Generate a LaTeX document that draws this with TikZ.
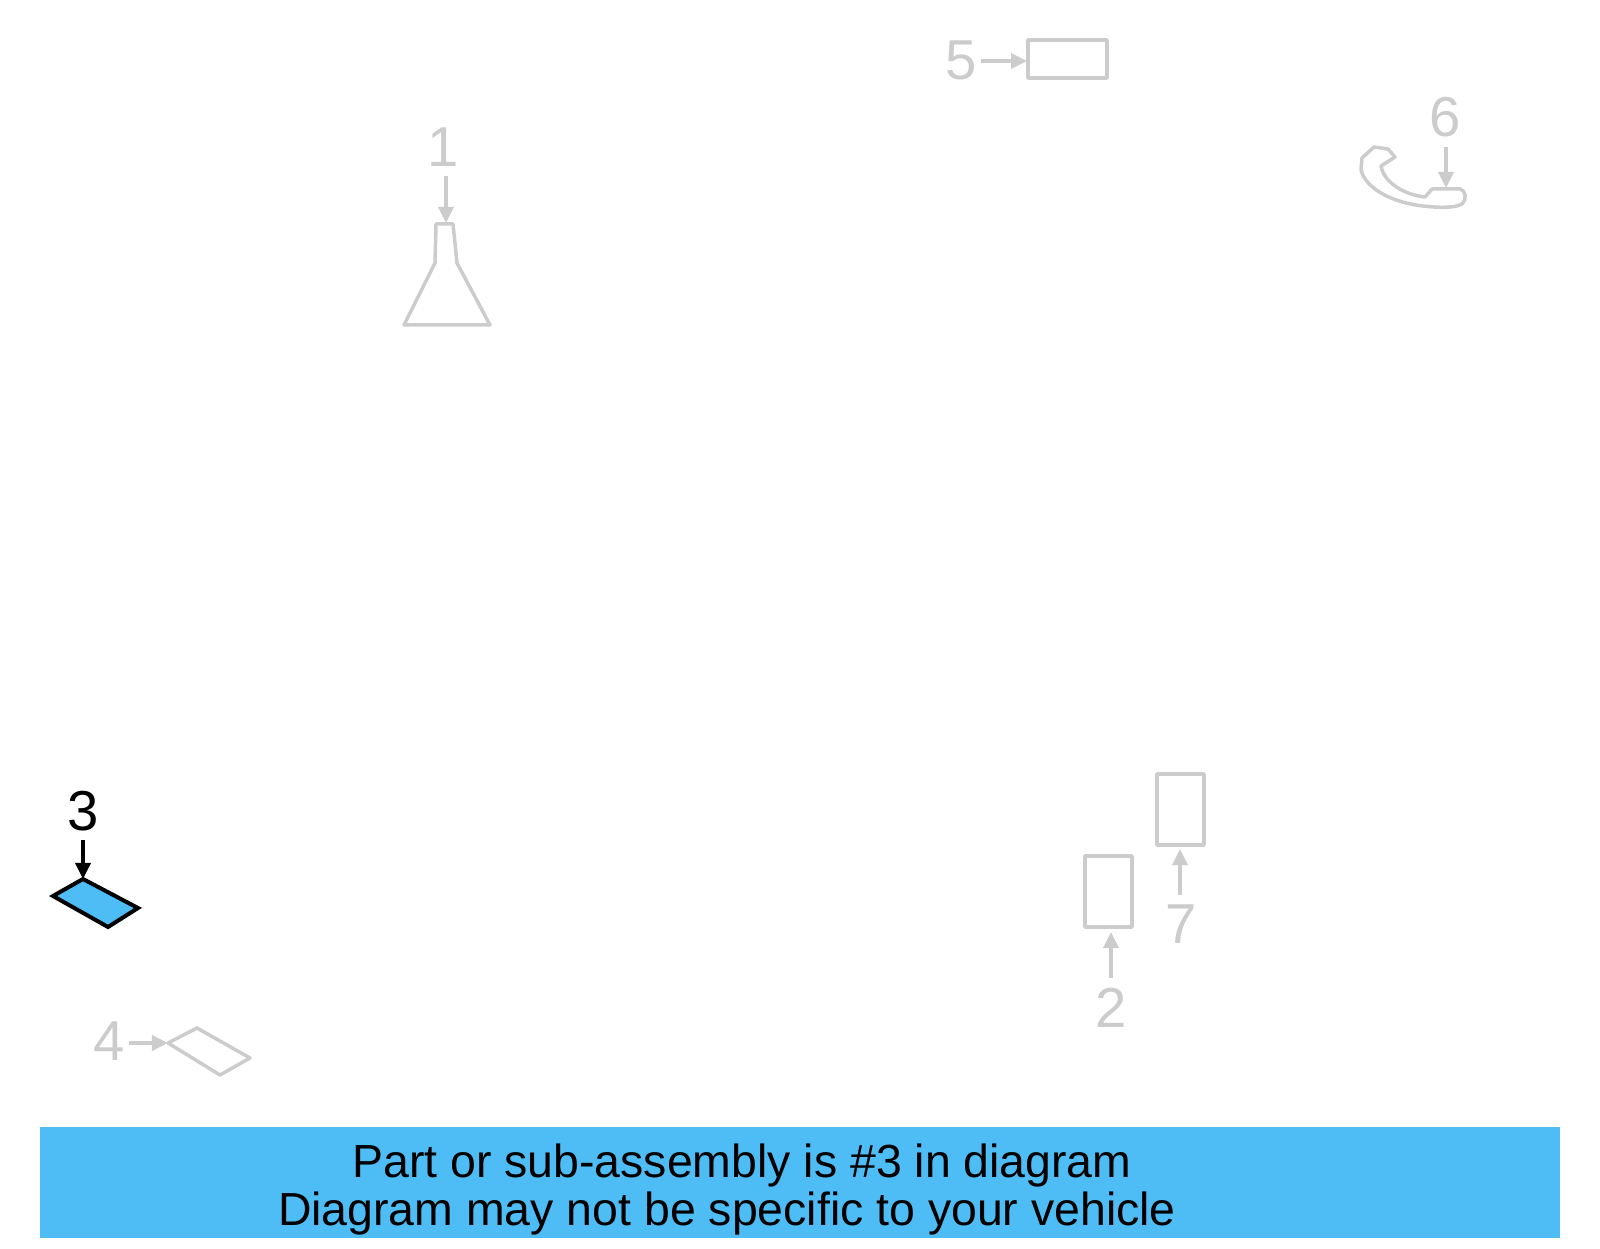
\documentclass[tikz,border=0pt]{standalone}
\usepackage{fontspec}
\setmainfont{Liberation Sans}
\usepackage{tikz}
\usetikzlibrary{arrows.meta}
\definecolor{partgray}{RGB}{204,204,204}
\definecolor{hilite}{RGB}{78,188,245}

\begin{document}
\begin{tikzpicture}[x=0.01cm, y=-0.01cm,
    part/.style={draw=partgray, line width=0.035cm, line join=round},
    sel/.style={draw=black, fill=hilite, line width=0.04cm},
    num/.style={inner sep=2.5pt, anchor=base, text=partgray, font=\fontsize{16}{19}\selectfont},
    ptr/.style={draw=partgray, line width=0.035cm, -{Triangle[length=0.16cm,width=0.15cm]}},
    side/.style={shorten <=-0.05cm}]
    \useasboundingbox (0,0) rectangle (1600,1249);

    \draw[part] (436,224) -- (453,224) -- (457,263) -- (490,325) -- (404,325) -- (435,263) -- cycle;
    \coordinate (p1) at (446,223);
    \node[num] (n1) at (443,167) {1};
    \draw[ptr] (p1 |- n1.south) -- (p1);

    \draw[part] (1028,40) rectangle (1107,78);
    \coordinate (p5) at (1027,61);
    \node[num] (n5) at (961,80) {5};
    \draw[ptr, side] (n5.east |- p5) -- (p5);

    \draw[part] (1361,170) -- (1362,158) -- (1374,147) -- (1388,149) -- (1395,157) -- (1381,166)
        .. controls (1384,183) and (1405,195) .. (1425,197) -- (1432,189) -- (1460,189)
        .. controls (1466,190) and (1467,200) .. (1462,204)
        .. controls (1455,208) and (1440,208) .. (1423,206)
        .. controls (1395,203) and (1366,190) .. cycle;
    \coordinate (p6) at (1446,188);
    \node[num] (n6) at (1445,137) {6};
    \draw[ptr] (p6 |- n6.south) -- (p6);

    \draw[sel] (83,879) -- (138,908) -- (108,927) -- (53,896) -- cycle;
    \coordinate (p3) at (83,879);
    \node[num, text=black] (n3) at (83,830) {3};
    \draw[ptr, draw=black] (p3 |- n3.south) -- (p3);

    \draw[part] (168,1043) -- (197,1028) -- (250,1058) -- (220,1075) -- cycle;
    \coordinate (p4) at (168,1043);
    \node[num] (n4) at (109,1060) {4};
    \draw[ptr, side] (n4.east |- p4) -- (p4);

    \draw[part] (1085,856) rectangle (1132,927);
    \coordinate (p2) at (1111,932);
    \node[num] (n2) at (1111,1027) {2};
    \draw[ptr] (p2 |- n2.north) -- (p2);

    \draw[part] (1157,774) rectangle (1204,845);
    \coordinate (p7) at (1180,849);
    \node[num] (n7) at (1181,943) {7};
    \draw[ptr] (p7 |- n7.north) -- (p7);

    \fill[hilite] (40,1127) rectangle (1560,1238);
    \node[anchor=base, inner sep=0pt, font=\fontsize{13.2}{15}\selectfont] (msg1) at (742,1177) {Part or sub-assembly is \#3 in diagram};
    \node[anchor=base, inner sep=0pt, font=\fontsize{13.2}{15}\selectfont] (msg2) at (727,1225) {Diagram may not be specific to your vehicle};
\end{tikzpicture}
\end{document}
